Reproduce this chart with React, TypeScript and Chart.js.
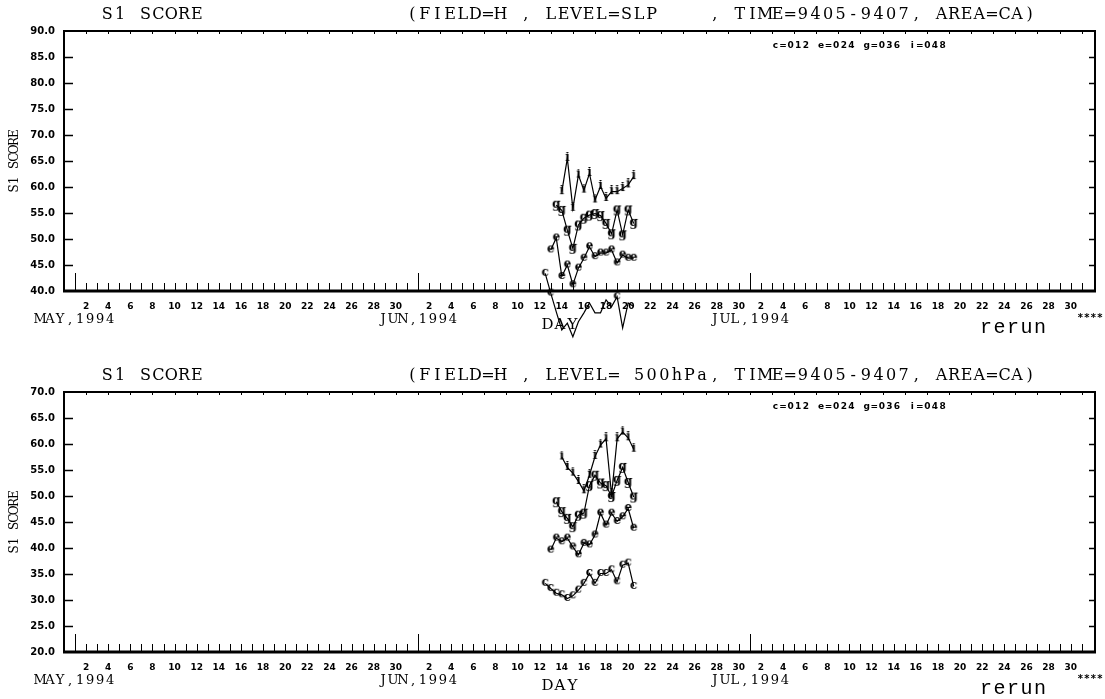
import React, { useEffect, useRef } from "react";
import { Chart, registerables } from "chart.js";
Chart.register(...registerables);

// ---- time axis (day index: May 1 1994 = 1) ----
const HALF_DAYS = [43.5, 44, 44.5, 45, 45.5, 46, 46.5, 47, 47.5, 48, 48.5, 49, 49.5, 50, 50.5, 51, 51.5];
const MONTH_LABELS = ["MAY,1994", "JUN,1994", "JUL,1994"];
const MONTH_STARTS = [1, 32, 62];
const MONTH_LENGTHS = [31, 30, 31];
const TICK_DAYS_OF_MONTH = [2, 4, 6, 8, 10, 12, 14, 16, 18, 20, 22, 24, 26, 28, 30];
const X_MIN = 0;
const X_MAX = 93.2;

// ---- series names ----
const SERIES_LETTERS = ["c", "e", "g", "i"];
const LEGEND_TEXT = "c=012 e=024 g=036 i=048";

// ---- panel 1 : SLP ----
const SLP_TITLE = "(FIELD=H , LEVEL=SLP    , TIME=9405-9407, AREA=CA)";
const SLP_Y = [40, 90];
const SLP_C = [43.4, 39.6, 36.0, 32.5, 33.8, 31.2, 34.1, 35.8, 37.7, 35.8, 35.8, 38.3, 37.0, 38.9, 32.9, 37.7, 37.0];
const SLP_E = [null, 47.9, 50.2, 42.8, 45.0, 41.2, 44.4, 46.3, 48.5, 46.6, 47.3, 47.3, 47.9, 45.4, 46.9, 46.3, 46.3];
const SLP_G = [null, null, 56.5, 55.5, 51.7, 48.2, 52.7, 54.0, 54.6, 54.9, 54.5, 53.0, 51.0, 55.6, 50.8, 55.6, 53.0];
const SLP_I = [null, null, null, 59.1, 65.5, 55.9, 62.3, 59.4, 62.6, 57.5, 60.1, 57.8, 59.1, 59.1, 59.7, 60.4, 62.0];

// ---- panel 2 : 500hPa ----
const H500_TITLE = "(FIELD=H , LEVEL= 500hPa, TIME=9405-9407, AREA=CA)";
const H500_Y = [20, 70];
const H500_C = [33.2, 32.2, 31.3, 31.0, 30.3, 30.8, 31.9, 33.2, 35.1, 33.2, 35.1, 35.1, 35.8, 33.5, 36.7, 37.1, 32.6];
const H500_E = [null, 39.6, 41.9, 41.2, 41.9, 40.2, 38.7, 40.9, 40.6, 42.5, 46.7, 44.4, 46.7, 45.1, 46.0, 47.6, 43.8];
const H500_G = [null, null, 48.9, 47.0, 45.7, 44.1, 46.3, 46.7, 52.0, 54.0, 52.5, 52.0, 49.9, 53.0, 55.5, 52.6, 49.8];
const H500_I = [null, null, null, 57.5, 55.5, 54.4, 52.8, 51.0, 54.0, 57.6, 59.8, 61.0, 50.2, 61.0, 62.3, 61.2, 59.0];

type Panel = { title: string; yRange: number[]; series: (number | null)[][] };
const PANELS: Panel[] = [
  { title: SLP_TITLE, yRange: SLP_Y, series: [SLP_C, SLP_E, SLP_G, SLP_I] },
  { title: H500_TITLE, yRange: H500_Y, series: [H500_C, H500_E, H500_G, H500_I] },
];

const TICK_VALUES: number[] = [];
MONTH_STARTS.forEach((s) => TICK_DAYS_OF_MONTH.forEach((d) => TICK_VALUES.push(s + d - 1)));

function dayOfMonth(v: number): string {
  for (let i = MONTH_STARTS.length - 1; i >= 0; i--) {
    if (v >= MONTH_STARTS[i]) return String(Math.round(v - MONTH_STARTS[i] + 1));
  }
  return "";
}

function markerCanvas(ch: string): HTMLCanvasElement {
  const c = document.createElement("canvas");
  c.width = 11;
  c.height = 13;
  const ctx = c.getContext("2d")!;
  ctx.fillStyle = "#000";
  ctx.font = 'bold 12px "DejaVu Serif"';
  ctx.textAlign = "center";
  ctx.textBaseline = "middle";
  ctx.fillText(ch, 5.5, 6);
  return c;
}

function spaced(ctx: CanvasRenderingContext2D, text: string, cx: number, y: number, pitch: number, font: string) {
  ctx.font = font;
  ctx.textAlign = "center";
  ctx.textBaseline = "middle";
  const x0 = cx - (text.length * pitch) / 2;
  for (let i = 0; i < text.length; i++) ctx.fillText(text[i], x0 + pitch * (i + 0.5), y);
}

function makePlugin(panel: Panel) {
  return {
    id: "frame",
    beforeDatasetsDraw(chart: any) {
      const { ctx, chartArea: a, scales } = chart;
      const x = scales.x;
      const y = scales.y;
      ctx.save();
      ctx.strokeStyle = "#000";
      ctx.lineWidth = 2;
      ctx.beginPath();
      ctx.moveTo(a.left, a.bottom);
      ctx.lineTo(a.left, a.top);
      ctx.lineTo(a.right, a.top);
      ctx.lineTo(a.right, a.bottom);
      ctx.stroke();
      ctx.lineWidth = 3;
      ctx.beginPath();
      ctx.moveTo(a.left - 1, a.bottom);
      ctx.lineTo(a.right + 1, a.bottom);
      ctx.stroke();
      ctx.lineWidth = 1;
      const lastDay = MONTH_STARTS[MONTH_STARTS.length - 1] + MONTH_LENGTHS[MONTH_LENGTHS.length - 1] - 1;
      for (let d = 1; d <= lastDay; d++) {
        const px = Math.round(x.getPixelForValue(d)) + 0.5;
        const tall = MONTH_STARTS.includes(d);
        ctx.beginPath();
        ctx.moveTo(px, a.bottom);
        ctx.lineTo(px, a.bottom - (tall ? 18 : 8));
        ctx.stroke();
        if (d % 2 === 0) {
          ctx.beginPath();
          ctx.moveTo(px, a.top);
          ctx.lineTo(px, a.top + 3);
          ctx.stroke();
        }
      }
      ctx.lineWidth = 1.5;
      for (let v = panel.yRange[0] + 5; v < panel.yRange[1]; v += 5) {
        const py = Math.round(y.getPixelForValue(v)) + 0.5;
        ctx.beginPath();
        ctx.moveTo(a.left, py);
        ctx.lineTo(a.left + 9, py);
        ctx.stroke();
        ctx.beginPath();
        ctx.moveTo(a.right, py);
        ctx.lineTo(a.right - 6, py);
        ctx.stroke();
      }
      ctx.restore();
    },
    afterDraw(chart: any) {
      const { ctx, chartArea: a, scales } = chart;
      const x = scales.x;
      ctx.save();
      ctx.fillStyle = "#000";
      spaced(ctx, "S1 SCORE", 152, 15, 12.8, '16px "DejaVu Serif"');
      spaced(ctx, panel.title, 721, 15, 12.6, '16px "DejaVu Serif"');
      spaced(ctx, LEGEND_TEXT, 859, a.top + 15, 7.6, 'bold 9px "DejaVu Sans"');
      ctx.save();
      ctx.translate(15, (a.top + a.bottom) / 2);
      ctx.rotate(-Math.PI / 2);
      spaced(ctx, "S1 SCORE", 0, 0, 7.8, '12px "DejaVu Serif"');
      ctx.restore();
      MONTH_LABELS.forEach((m, i) =>
        spaced(ctx, m, x.getPixelForValue(MONTH_STARTS[i]), a.bottom + 29, 10, '13px "DejaVu Serif"')
      );
      spaced(ctx, "DAY", 560, a.bottom + 34, 12.5, '15px "DejaVu Serif"');
      spaced(ctx, "rerun", 1013, a.bottom + 37, 13.5, '20px "Liberation Mono"');
      spaced(ctx, "****", 1090, a.bottom + 27, 6.5, 'bold 10px "DejaVu Sans"');
      ctx.restore();
    },
  };
}

function makeChart(canvas: HTMLCanvasElement, panel: Panel): Chart {
  const H = canvas.height;
  const markers = SERIES_LETTERS.map(markerCanvas);
  const tickFont = { family: '"DejaVu Sans", Arial, sans-serif', weight: "bold" as const, size: 9 };
  return new Chart(canvas, {
    type: "line",
    data: {
      datasets: panel.series.map((vals, k) => ({
        label: SERIES_LETTERS[k],
        data: HALF_DAYS.map((t, i) => ({ x: t, y: vals[i] as any })),
        borderColor: "#000",
        backgroundColor: "#000",
        borderWidth: 1.2,
        pointStyle: markers[k] as any,
        pointRadius: 5,
        tension: 0,
        fill: false,
        spanGaps: false,
        clip: false as any,
      })),
    },
    options: {
      responsive: false,
      animation: false,
      devicePixelRatio: 1,
      events: [],
      layout: { padding: { top: 31, right: 10, left: 0, bottom: 0 } },
      plugins: { legend: { display: false }, tooltip: { enabled: false }, title: { display: false } },
      scales: {
        x: {
          type: "linear",
          min: X_MIN,
          max: X_MAX,
          afterFit: (s: any) => {
            s.height = H - 291;
          },
          afterBuildTicks: (s: any) => {
            s.ticks = TICK_VALUES.map((v) => ({ value: v }));
          },
          grid: { display: false, drawTicks: false },
          border: { display: false },
          ticks: {
            autoSkip: false,
            maxRotation: 0,
            minRotation: 0,
            padding: 10,
            color: "#000",
            font: tickFont,
            callback: (v: any) => dayOfMonth(Number(v)),
          },
        },
        y: {
          type: "linear",
          min: panel.yRange[0],
          max: panel.yRange[1],
          afterFit: (s: any) => {
            s.width = 64;
          },
          grid: { display: false, drawTicks: false },
          border: { display: false },
          ticks: {
            stepSize: 5,
            padding: 9,
            color: "#000",
            font: { ...tickFont, size: 10 },
            callback: (v: any) => Number(v).toFixed(1),
          },
        },
      },
    },
    plugins: [makePlugin(panel) as any],
  });
}

export default function App() {
  const topRef = useRef<HTMLCanvasElement>(null);
  const botRef = useRef<HTMLCanvasElement>(null);
  useEffect(() => {
    document.body.style.margin = "0";
    const charts = [makeChart(topRef.current!, PANELS[0]), makeChart(botRef.current!, PANELS[1])];
    return () => charts.forEach((c) => c.destroy());
  }, []);
  return (
    <div style={{ position: "absolute", left: 0, top: 0, width: 1105, height: 699, background: "#fff", overflow: "hidden" }}>
      <canvas ref={topRef} width={1105} height={361} style={{ position: "absolute", left: 0, top: 0, width: 1105, height: 361 }} />
      <canvas ref={botRef} width={1105} height={338} style={{ position: "absolute", left: 0, top: 361, width: 1105, height: 338 }} />
    </div>
  );
}
